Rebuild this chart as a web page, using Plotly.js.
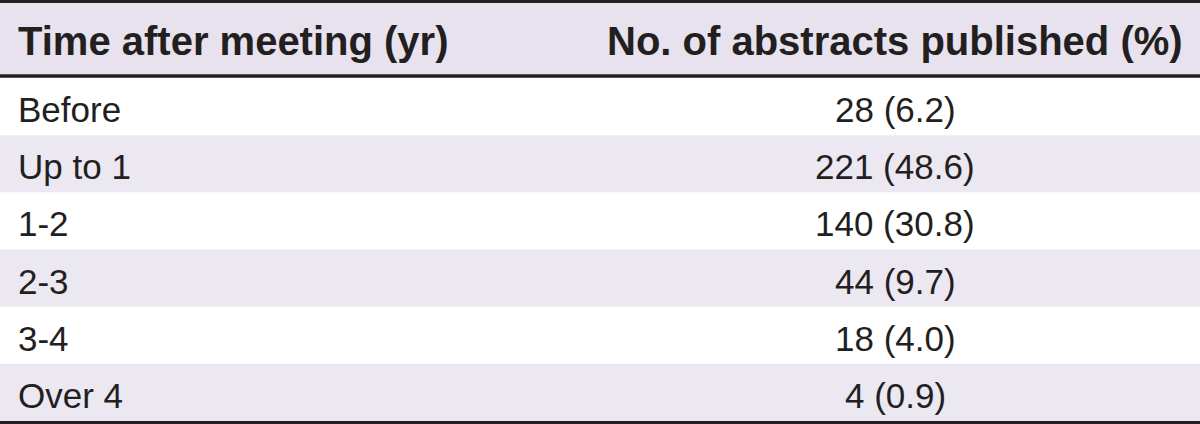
<!DOCTYPE html>
<html>
<head>
<meta charset="utf-8">
<script src="https://cdn.plot.ly/plotly-3.0.1.min.js"></script>
<style>html,body{margin:0;padding:0;background:#fff;}#chart{width:1200px;height:424px;}</style>
</head>
<body>
<div id="chart"></div>
<script>
const headers = ["Time after meeting (yr)", "No. of abstracts published (%)"];
const periods = ["Before", "Up to 1", "1-2", "2-3", "3-4", "Over 4"];
const counts = [28, 221, 140, 44, 18, 4];
const percents = [6.2, 48.6, 30.8, 9.7, 4.0, 0.9];

const valueLabels = counts.map((c, i) => c + " (" + percents[i].toFixed(1) + ")");
const rowIdx = periods.map((_, i) => i);
const ink = "#231f20";
const band = "#ebe8f1";
const headFill = "#e7e2ee";

// layout geometry (pixels)
const W = 1200, H = 424, TOP = 78, BOT = 421;
const plotH = BOT - TOP;
const py = p => (BOT - p) / plotH;   // pixel-from-top -> paper y
const col1X = 16, col2X = 895;

const bodyFont = {family: "Liberation Sans, Arial, sans-serif", size: 35, color: ink};
const headFont = {family: "Liberation Sans, Arial, sans-serif", size: 40, color: ink};

// invisible anchor trace so the cartesian axes exist
const traces = [
  {type: "scatter", mode: "markers", x: rowIdx.map(() => col1X), y: rowIdx,
   marker: {opacity: 0, size: 1}, hoverinfo: "skip", showlegend: false, cliponaxis: false}
];

const annotations = [];
periods.forEach((p, i) => {
  annotations.push({xref: "x", yref: "y", x: col1X, y: i, text: p, showarrow: false,
    xanchor: "left", yanchor: "middle", yshift: -3, font: bodyFont});
  annotations.push({xref: "x", yref: "y", x: col2X, y: i, text: valueLabels[i], showarrow: false,
    xanchor: "center", yanchor: "middle", yshift: -3, font: bodyFont});
});
annotations.push({xref: "x", yref: "paper", x: col1X, y: py(41), text: "<b>" + headers[0] + "</b>",
  showarrow: false, xanchor: "left", yanchor: "middle", font: headFont});
annotations.push({xref: "x", yref: "paper", x: col2X, y: py(41), text: "<b>" + headers[1] + "</b>",
  showarrow: false, xanchor: "center", yanchor: "middle", font: headFont});

const shapes = [];
rowIdx.filter(i => i % 2 === 1).forEach(i => {
  shapes.push({type: "rect", xref: "paper", yref: "y", x0: 0, x1: 1, y0: i - 0.5, y1: i + 0.5,
    fillcolor: band, line: {width: 0}, layer: "below"});
});
shapes.push({type: "rect", xref: "paper", yref: "paper", x0: 0, x1: 1, y0: py(74), y1: py(3),
  fillcolor: headFill, line: {width: 0}, layer: "below"});
const rule = (p, w) => ({type: "line", xref: "paper", yref: "paper", x0: 0, x1: 1, y0: py(p), y1: py(p),
  line: {color: ink, width: w}});
shapes.push(rule(1.5, 3), rule(76, 3.5), rule(422.5, 3));

const layout = {
  width: W, height: H,
  margin: {l: 0, r: 0, t: TOP, b: H - BOT, pad: 0},
  paper_bgcolor: "#ffffff", plot_bgcolor: "rgba(0,0,0,0)",
  showlegend: false,
  xaxis: {range: [0, W], visible: false, fixedrange: true},
  yaxis: {range: [periods.length - 0.5, -0.5], visible: false, fixedrange: true},
  annotations: annotations,
  shapes: shapes
};

Plotly.newPlot("chart", traces, layout, {displayModeBar: false, staticPlot: true});
</script>
</body>
</html>
